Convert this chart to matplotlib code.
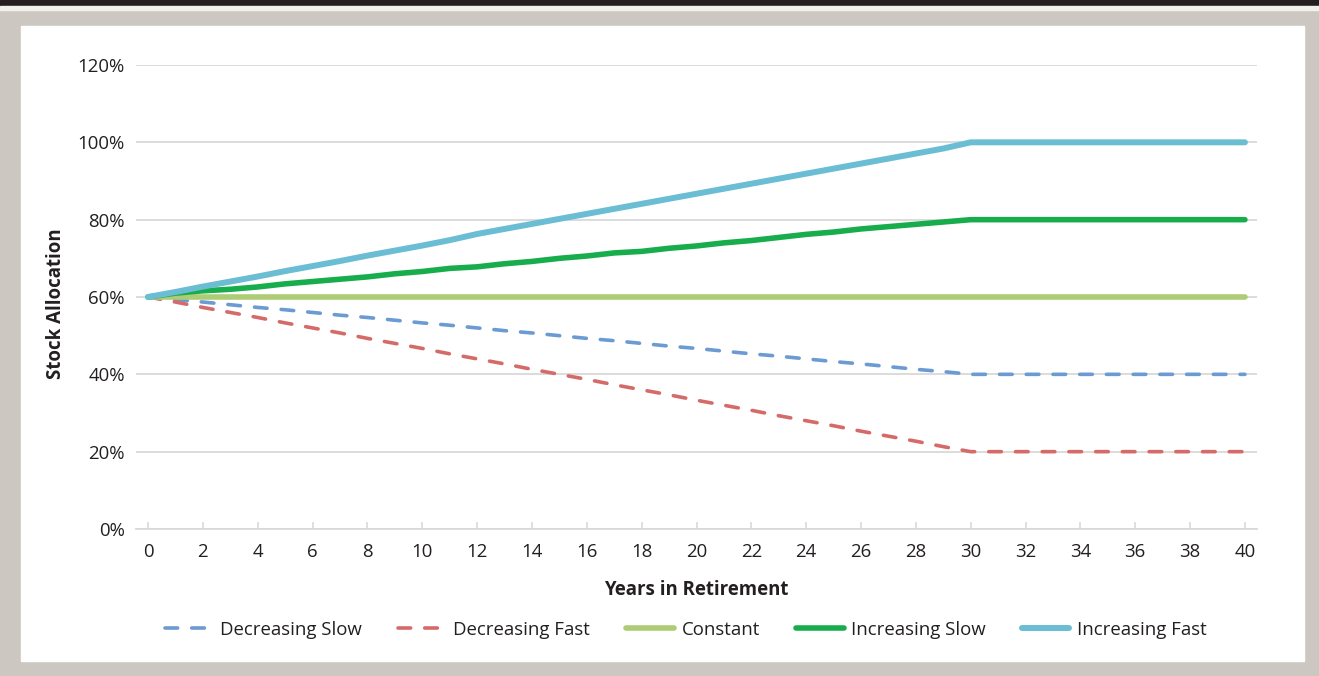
import matplotlib
matplotlib.use("Agg")
import matplotlib.pyplot as plt
from matplotlib.patches import Rectangle

plt.rcParams['font.family'] = ['Open Sans', 'DejaVu Sans']

# data (stock allocation %, years 0..40)
years = list(range(0, 41))
dec_slow = [60, 59.3, 58.7, 58, 57.3, 56.7, 56, 55.3, 54.7, 54, 53.3, 52.7, 52, 51.3, 50.7,
            50, 49.3, 48.7, 48, 47.3, 46.7, 46, 45.3, 44.7, 44, 43.3, 42.7, 42, 41.3, 40.7,
            40, 40, 40, 40, 40, 40, 40, 40, 40, 40, 40]
dec_fast = [60, 58.7, 57.3, 56, 54.7, 53.3, 52, 50.7, 49.3, 48, 46.7, 45.3, 44, 42.7, 41.3,
            40, 38.7, 37.3, 36, 34.7, 33.3, 32, 30.7, 29.3, 28, 26.7, 25.3, 24, 22.7, 21.3,
            20, 20, 20, 20, 20, 20, 20, 20, 20, 20, 20]
constant = [60] * 41
inc_slow = [60, 61, 61.6, 62, 62.6, 63.4, 64, 64.6, 65.2, 66, 66.6, 67.4, 67.8, 68.6, 69.2,
            70, 70.6, 71.4, 71.8, 72.6, 73.2, 74, 74.6, 75.4, 76.2, 76.8, 77.6, 78.2, 78.8, 79.4,
            80, 80, 80, 80, 80, 80, 80, 80, 80, 80, 80]
inc_fast = [60, 61.3, 62.7, 64, 65.3, 66.7, 68, 69.3, 70.7, 72, 73.3, 74.7, 76.3, 77.6, 78.9,
            80.2, 81.5, 82.8, 84.1, 85.4, 86.7, 88, 89.3, 90.6, 91.9, 93.2, 94.5, 95.8, 97.1, 98.4,
            100, 100, 100, 100, 100, 100, 100, 100, 100, 100, 100]

x_ticks = list(range(0, 41, 2))
y_ticks = [0, 20, 40, 60, 80, 100, 120]

txt = '#231f20'
fs = 13.4
fig = plt.figure(figsize=(13.19, 6.76), dpi=100)
W, H = 1319, 676

# background frame
fig.patches.append(Rectangle((0, 0), 1, 1, transform=fig.transFigure, color='#ccc8c1', zorder=-10))
fig.patches.append(Rectangle((0, 1 - 6 / H), 1, 6 / H, transform=fig.transFigure, color='#231f20', zorder=-9))
fig.patches.append(Rectangle((0, 1 - 10 / H), 1, 4 / H, transform=fig.transFigure, color='#f2f0ec', zorder=-9))
fig.patches.append(Rectangle((21 / W, 1 - 661 / H), (1304 - 21) / W, (661 - 26) / H,
                             transform=fig.transFigure, color='white', zorder=-8))

ax = fig.add_axes([136 / W, 1 - 529 / H, (1257 - 136) / W, (529 - 65) / H])
ax.set_facecolor('none')

ax.plot(years, dec_slow, color='#6b9bd2', lw=2.6, dashes=(3.5, 3.9), label='Decreasing Slow', dash_capstyle='round')
ax.plot(years, dec_fast, color='#d56b69', lw=2.6, dashes=(3.5, 3.9), label='Decreasing Fast', dash_capstyle='round')
ax.plot(years, constant, color='#aecb75', lw=4.0, label='Constant', solid_capstyle='round')
ax.plot(years, inc_slow, color='#17ad4c', lw=4.0, label='Increasing Slow', solid_capstyle='round')
ax.plot(years, inc_fast, color='#6bbdd4', lw=4.3, label='Increasing Fast', solid_capstyle='round')

ax.set_xlim(-0.44, 40.44)
ax.set_ylim(0, 120)
ax.set_xticks(x_ticks)
ax.set_yticks(y_ticks)
ax.set_yticklabels([f'{v}%' for v in y_ticks])
ax.yaxis.grid(True, color='#d9d9d9', lw=1.3, zorder=0)
ax.set_axisbelow(True)
for s in ['top', 'right', 'left']:
    ax.spines[s].set_visible(False)
ax.spines['bottom'].set_color('#d9d9d9')
ax.spines['bottom'].set_linewidth(1.3)
ax.tick_params(axis='y', length=0, pad=8, labelsize=fs, labelcolor=txt)
ax.tick_params(axis='x', direction='in', length=5, width=1.2, color='#d9d9d9', pad=10,
               labelsize=fs, labelcolor=txt)

ax.set_xlabel('Years in Retirement', fontsize=fs, fontweight='bold', color=txt, labelpad=14)
ax.set_ylabel('Stock Allocation', fontsize=fs, fontweight='bold', color=txt)
ax.yaxis.set_label_coords(-0.062, 0.485)

fig.legend(loc='center', bbox_to_anchor=(686 / W, 1 - 630 / H), ncol=5, frameon=False,
           fontsize=fs, handlelength=2.55, columnspacing=1.95, handletextpad=0.4,
           labelcolor=txt)

fig.savefig('out.png', dpi=100)
